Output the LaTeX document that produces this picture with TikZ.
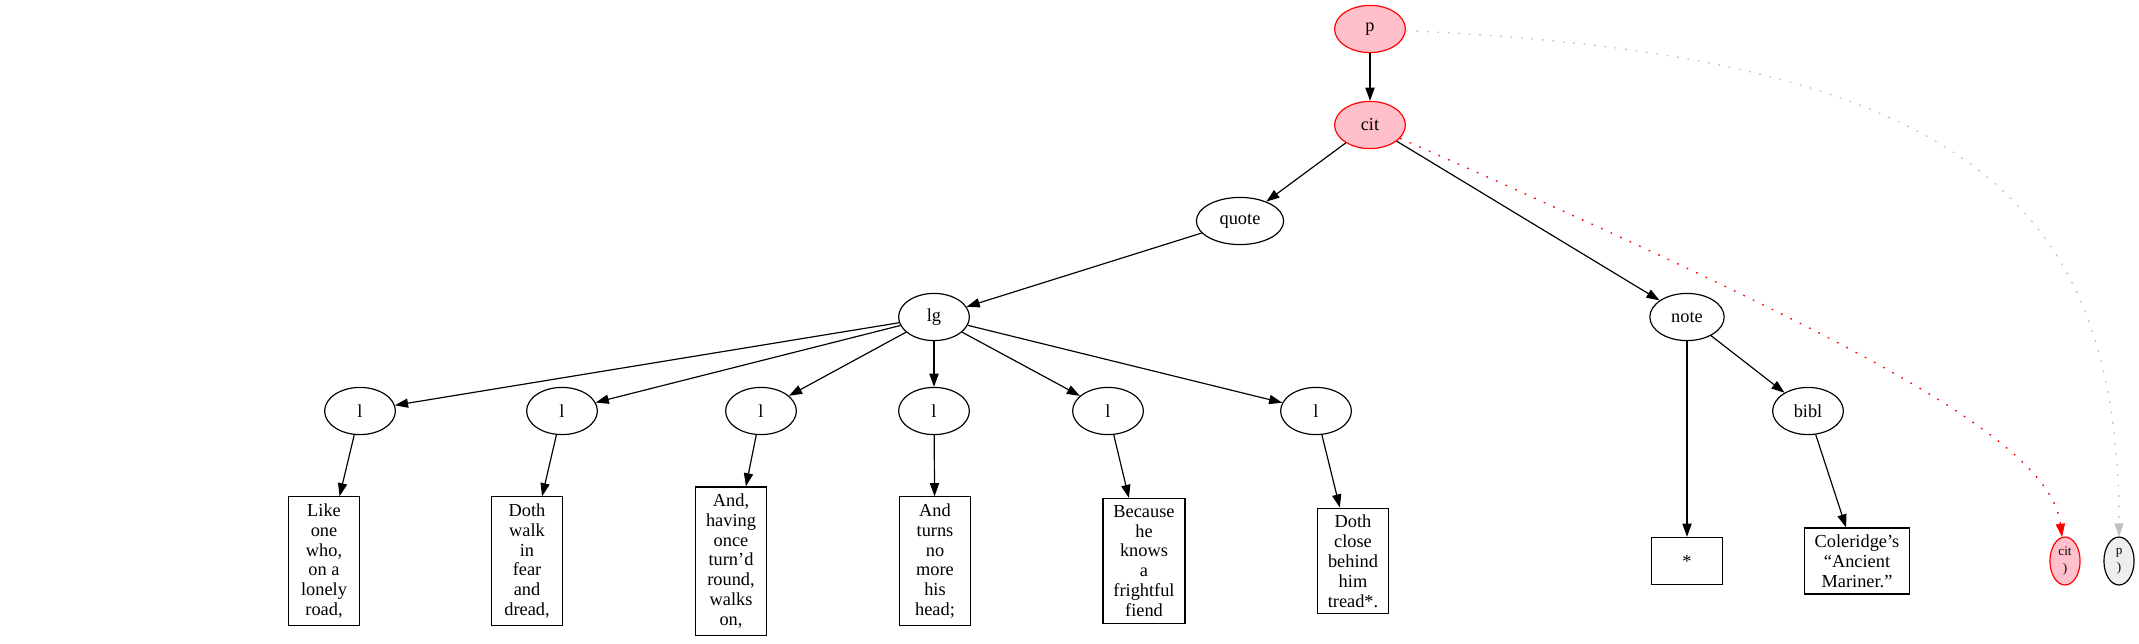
\documentclass[tikz,border=0pt]{standalone}
\usepackage{fontspec}
\setmainfont{Liberation Serif}
\usetikzlibrary{arrows.meta,shapes.geometric}
\definecolor{pinkfill}{HTML}{FFC0CB}
\definecolor{lightfill}{HTML}{EEEEEE}
\definecolor{silverline}{HTML}{C0C0C0}
\tikzset{
  ell/.style={ellipse, draw, line width=0.9pt, minimum width=54pt, minimum height=36pt,
    inner xsep=8pt, inner ysep=4pt, font=\fontsize{14}{16}\selectfont},
  hl/.style={ell, draw=red, fill=pinkfill},
  txt/.style={rectangle, draw, line width=0.9pt, align=center, minimum width=54pt,
    minimum height=36pt, inner xsep=8pt, inner ysep=5pt, font=\fontsize{14}{15.2}\selectfont},
  smallell/.style={ellipse, draw, line width=0.9pt, minimum width=23pt, minimum height=36.6pt,
    inner sep=0pt, align=center, font=\fontsize{10}{12.7}\selectfont},
  edge/.style={-{Triangle[length=10pt,width=7pt]}, line width=0.9pt},
  reddot/.style={draw=red, line width=1pt, dash pattern=on 1.3pt off 6.7pt,
    -{Triangle[length=10pt,width=7pt,fill=red]}},
  graydot/.style={draw=silverline, line width=1pt, dash pattern=on 1.3pt off 6.7pt,
    -{Triangle[length=10pt,width=7pt,fill=silverline]}}
}
\begin{document}
\begin{tikzpicture}[x=0.763pt, y=-0.763pt]
\useasboundingbox (0,0) rectangle (2139,643);

\node[hl] (p) at (1370,29) {p};
\node[hl] (cit) at (1370,125) {cit};
\node[ell] (quote) at (1240,221) {quote};
\node[ell] (note) at (1687,317) {note};
\node[ell] (lg) at (934,317) {lg};
\node[ell] (l1) at (360,411) {l};
\node[ell] (l2) at (562,411) {l};
\node[ell] (l3) at (761,411) {l};
\node[ell] (l4) at (934,411) {l};
\node[ell] (l5) at (1108,411) {l};
\node[ell] (l6) at (1316,411) {l};
\node[ell] (bibl) at (1808,411) {bibl};

\node[txt] (t1) at (324,561) {Like\\one\\who,\\on a\\lonely\\road,};
\node[txt] (t2) at (527,561) {Doth\\walk\\in\\fear\\and\\dread,};
\node[txt] (t3) at (731,561) {And,\\having\\once\\turn’d\\round,\\walks\\on,};
\node[txt] (t4) at (935,561) {And\\turns\\no\\more\\his\\head;};
\node[txt] (t5) at (1144,561) {Because\\he\\knows\\a\\frightful\\fiend};
\node[txt] (t6) at (1353,561) {Doth\\close\\behind\\him\\tread*.};
\node[txt] (star) at (1687,561) {*};
\node[txt] (t8) at (1857,561) {Coleridge’s\\“Ancient\\Mariner.”};

\node[smallell, draw=red, fill=pinkfill] (citend) at (2065,561) {cit\\)};
\node[smallell, fill=lightfill] (pend) at (2119,561) {p\\)};

\draw[edge] (p) -- (cit);
\draw[edge] (cit) -- (quote);
\draw[edge] (cit) -- (note);
\draw[edge] (quote) -- (lg);
\foreach \i in {1,...,6} {
  \draw[edge] (lg) -- (l\i);
  \draw[edge] (l\i) -- (t\i);
}
\draw[edge] (note) -- (star);
\draw[edge] (note) -- (bibl);
\draw[edge] (bibl) -- (t8);

\draw[reddot] (cit) .. controls (1853,338) and (2050,440) .. (citend);
\draw[graydot] (p) .. controls (1950,55) and (2119,190) .. (pend);
\end{tikzpicture}
\end{document}
